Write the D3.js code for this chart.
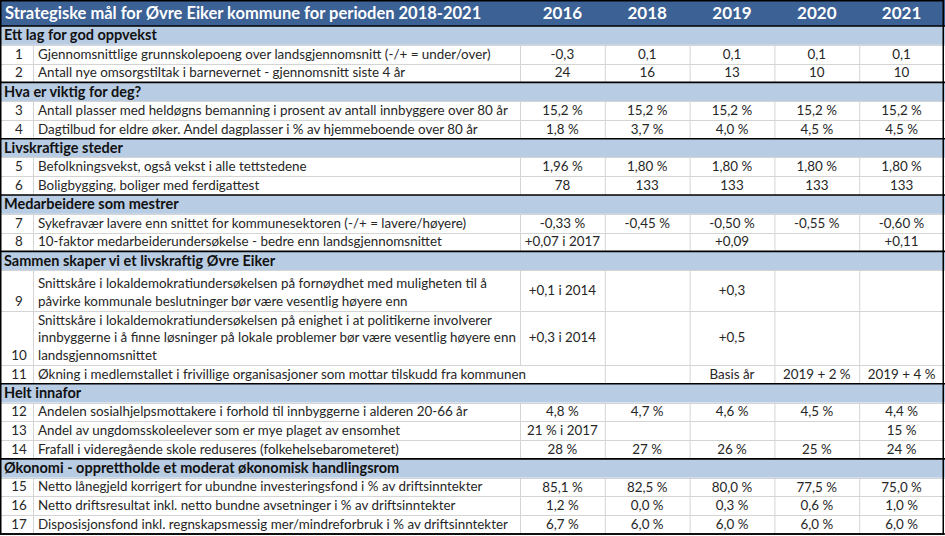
<!DOCTYPE html>
<html><head><meta charset="utf-8">
<script src="https://cdn.jsdelivr.net/npm/d3@7/dist/d3.min.js"></script>
<style>
html,body{margin:0;padding:0;background:#fff;}
svg{display:block;}
</style></head><body>
<svg id="chart" width="945" height="536"></svg>
<script>
const titleText = "Strategiske mål for Øvre Eiker kommune for perioden 2018-2021";
const years = ["2016", "2018", "2019", "2020", "2021"];
const sectionNames = [
  "Ett lag for god oppvekst",
  "Hva er viktig for deg?",
  "Livskraftige steder",
  "Medarbeidere som mestrer",
  "Sammen skaper vi et livskraftig Øvre Eiker",
  "Helt innafor",
  "Økonomi - opprettholde et moderat økonomisk handlingsrom"
];
const sectionSizes = [2, 2, 2, 2, 3, 3, 3];
const rowNumbers = ["1","2","3","4","5","6","7","8","9","10","11","12","13","14","15","16","17"];
const descriptions = [
  ["Gjennomsnittlige grunnskolepoeng over landsgjennomsnitt (-/+ = under/over)"],
  ["Antall nye omsorgstiltak i barnevernet - gjennomsnitt siste 4 år"],
  ["Antall plasser med heldøgns bemanning i prosent av antall innbyggere over 80 år"],
  ["Dagtilbud for eldre øker. Andel dagplasser i % av hjemmeboende over 80 år"],
  ["Befolkningsvekst, også vekst i alle tettstedene"],
  ["Boligbygging, boliger med ferdigattest"],
  ["Sykefravær lavere enn snittet for kommunesektoren (-/+ = lavere/høyere)"],
  ["10-faktor medarbeiderundersøkelse - bedre enn landsgjennomsnittet"],
  ["Snittskåre i lokaldemokratiundersøkelsen på fornøydhet med muligheten til å",
   "påvirke kommunale beslutninger bør være vesentlig høyere enn"],
  ["Snittskåre i lokaldemokratiundersøkelsen på enighet i at politikerne involverer",
   "innbyggerne i å finne løsninger på lokale problemer bør være vesentlig høyere enn",
   "landsgjennomsnittet"],
  ["Økning i medlemstallet i frivillige organisasjoner som mottar tilskudd fra kommunen"],
  ["Andelen sosialhjelpsmottakere i forhold til innbyggerne i alderen 20-66 år"],
  ["Andel av ungdomsskoleelever som er mye plaget av ensomhet"],
  ["Frafall i videregående skole reduseres (folkehelsebarometeret)"],
  ["Netto lånegjeld korrigert for ubundne investeringsfond i % av driftsinntekter"],
  ["Netto driftsresultat inkl. netto bundne avsetninger i % av driftsinntekter"],
  ["Disposisjonsfond inkl. regnskapsmessig mer/mindreforbruk i % av driftsinntekter"]
];
const values2016 = ["-0,3","24","15,2 %","1,8 %","1,96 %","78","-0,33 %","+0,07 i 2017","+0,1 i 2014","+0,3 i 2014","","4,8 %","21 % i 2017","28 %","85,1 %","1,2 %","6,7 %"];
const values2018 = ["0,1","16","15,2 %","3,7 %","1,80 %","133","-0,45 %","","","","","4,7 %","","27 %","82,5 %","0,0 %","6,0 %"];
const values2019 = ["0,1","13","15,2 %","4,0 %","1,80 %","133","-0,50 %","+0,09","+0,3","+0,5","Basis år","4,6 %","","26 %","80,0 %","0,3 %","6,0 %"];
const values2020 = ["0,1","10","15,2 %","4,5 %","1,80 %","133","-0,55 %","","","","2019 + 2 %","4,5 %","","25 %","77,5 %","0,6 %","6,0 %"];
const values2021 = ["0,1","10","15,2 %","4,5 %","1,80 %","133","-0,60 %","+0,11","","","2019 + 4 %","4,4 %","15 %","24 %","75,0 %","1,0 %","6,0 %"];
const rowUnits = [1,1,1,1,1,1,1,1,2.15,2.9,1,1,1,1,1,1,1];

const valueCols = [values2016, values2018, values2019, values2020, values2021];

// ---- layout ----
const W = 945, H = 536;
const headerH = 26;
const svg = d3.select("#chart");
const FONT = "Lato, 'Open Sans', sans-serif";
const colHeader = "#3b6195", colSection = "#b8cce4", gridCol = "#d4d4d4", textCol = "#262626";

// build row list (sections + data rows)
const rows = [];
let di = 0;
sectionNames.forEach((s, si) => {
  rows.push({type: "section", label: s, units: 1, last: false});
  for (let k = 0; k < sectionSizes[si]; k++) {
    rows.push({type: "data", idx: di, units: rowUnits[di], last: k === sectionSizes[si] - 1});
    di++;
  }
});
let acc = 0;
rows.forEach(r => { r.u0 = acc; acc += r.units; r.u1 = acc; });
const y = d3.scaleLinear().domain([0, acc]).range([headerH, 534]);
const xYear = d3.scaleBand().domain(years).range([520, 944]);
const xNum = 19, xDescL = 33, xDesc = 38;

// header
svg.append("rect").attr("x", 0).attr("y", 0).attr("width", W).attr("height", headerH).attr("fill", colHeader);
svg.append("text").attr("x", 5).attr("y", 19).attr("fill", "#fff")
  .attr("font-family", FONT).attr("font-weight", 700).attr("font-size", 16.5).text(titleText);
svg.selectAll("text.year").data(years).enter().append("text").attr("class", "year")
  .attr("x", d => xYear(d) + xYear.bandwidth() / 2).attr("y", 19)
  .attr("text-anchor", "middle").attr("fill", "#fff")
  .attr("font-family", FONT).attr("font-weight", 700).attr("font-size", 17).text(d => d);

// rows
const g = svg.append("g");
rows.forEach(r => {
  const y0 = y(r.u0), y1 = y(r.u1);
  if (r.type === "section") {
    g.append("rect").attr("x", 0).attr("y", y0).attr("width", W).attr("height", y1 - y0).attr("fill", colSection);
    g.append("text").attr("x", 4).attr("y", (y0 + y1) / 2 + 5).attr("fill", "#111")
      .attr("font-family", FONT).attr("font-weight", 700).attr("font-size", 14.5).text(r.label);
  } else {
    const i = r.idx;
    const lines = descriptions[i];
    const lineH = 17.5;
    const lastC = y1 - 9.5;
    lines.forEach((ln, k) => {
      const t = g.append("text").attr("x", xDesc).attr("y", lastC - (lines.length - 1 - k) * lineH + 4.5)
        .attr("fill", textCol).attr("font-family", FONT).attr("font-size", 13.4).text(ln);
      r.descW = Math.max(r.descW || 0, t.node().getComputedTextLength());
    });
    g.append("text").attr("x", xNum).attr("y", lastC + 4.5).attr("text-anchor", "middle")
      .attr("fill", textCol).attr("font-family", FONT).attr("font-size", 13.4).text(rowNumbers[i]);
    years.forEach((yr, c) => {
      const v = valueCols[c][i];
      if (!v) return;
      g.append("text").attr("x", xYear(yr) + xYear.bandwidth() / 2).attr("y", (y0 + y1) / 2 + 4.5)
        .attr("text-anchor", "middle").attr("fill", textCol)
        .attr("font-family", FONT).attr("font-size", 13.4).text(v);
    });
    // vertical grid lines
    const overflow = xDesc + r.descW > 520 && !values2016[i];
    const xs = [xDescL].concat(overflow ? [] : [520]).concat(years.slice(1).map(yr => xYear(yr)));
    xs.forEach(xv => {
      g.append("line").attr("x1", xv + 0.5).attr("x2", xv + 0.5).attr("y1", y0).attr("y2", y1)
        .attr("stroke", gridCol).attr("stroke-width", 1);
    });
    r.y1 = y1;
  }
});
// horizontal grid lines
rows.forEach(r => {
  const y1 = y(r.u1);
  if (r.type === "data" && r.last) return;
  g.append("line").attr("x1", 0).attr("x2", W).attr("y1", Math.round(y1) + 0.5).attr("y2", Math.round(y1) + 0.5)
    .attr("stroke", gridCol).attr("stroke-width", 1);
});
// thick separators
const sepYs = [headerH].concat(rows.filter(r => r.type === "data" && r.last).map(r => y(r.u1)));
sepYs.forEach(sy => {
  g.append("line").attr("x1", 0).attr("x2", W).attr("y1", sy).attr("y2", sy)
    .attr("stroke", "#000").attr("stroke-width", 1.6);
});
// outer border
svg.append("rect").attr("x", 0.75).attr("y", 0.75).attr("width", W - 2.5).attr("height", y(acc) - 0.75)
  .attr("fill", "none").attr("stroke", "#000").attr("stroke-width", 1.5);
</script>
</body></html>
